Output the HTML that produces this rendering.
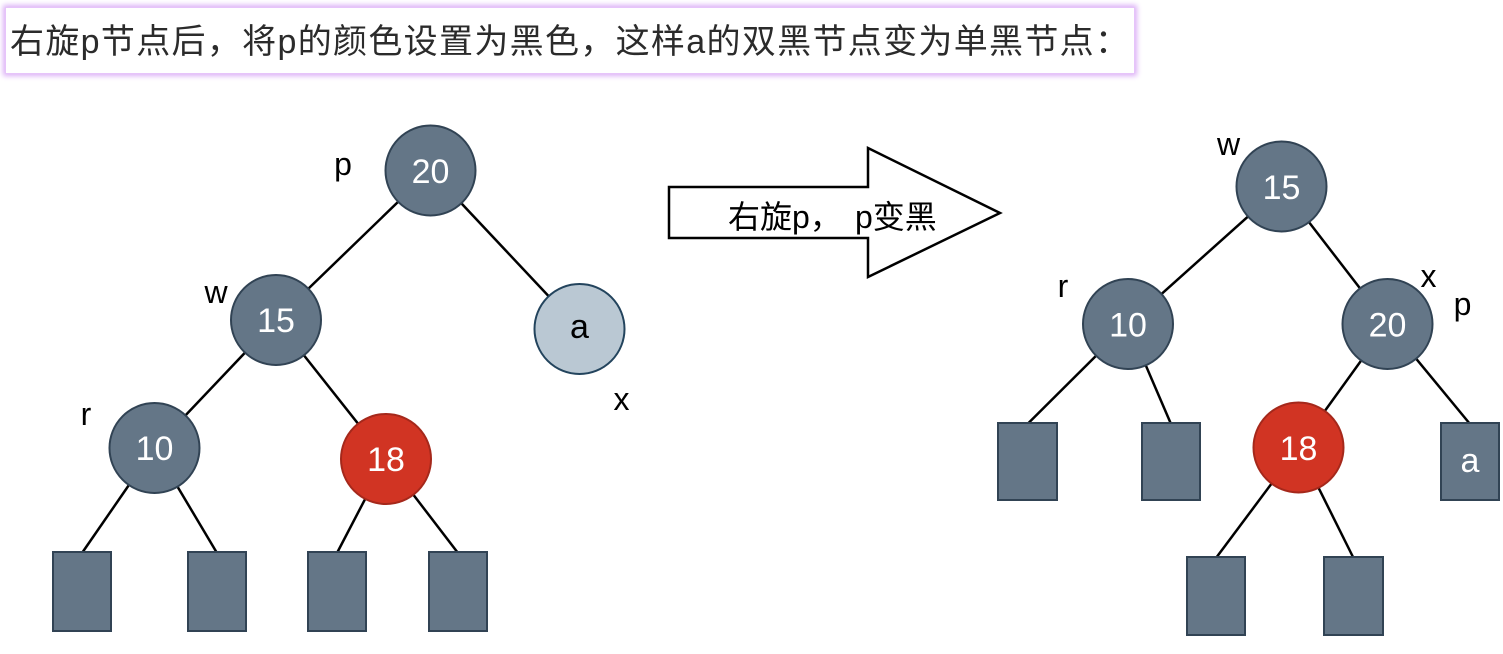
<!DOCTYPE html>
<html>
<head>
<meta charset="utf-8">
<style>
  html,body{margin:0;padding:0;background:#fff;}
  body{width:1503px;height:654px;position:relative;overflow:hidden;}
  .title{position:absolute;left:5px;top:7px;width:1130px;height:67px;background:#fff;
    box-shadow:0 0 5px 2px #dcb0f6;border:1px solid #e6c4fa;box-sizing:border-box;}
  svg{position:absolute;left:0;top:0;}
</style>
</head>
<body>
<div class="title"></div>
<svg width="1503" height="654" viewBox="0 0 1503 654" xmlns="http://www.w3.org/2000/svg">
  <g font-family="'Liberation Sans','Noto Sans CJK SC',sans-serif">
    <text x="10" y="53" font-size="34" fill="#2b2b2b" textLength="1119" lengthAdjust="spacing">右旋p节点后，将p的颜色设置为黑色，这样a的双黑节点变为单黑节点：</text>
  </g>

  <!-- LEFT TREE edges -->
  <g stroke="#000" stroke-width="2.5" fill="none">
    <line x1="430.5" y1="170.5" x2="276" y2="320"/>
    <line x1="430.5" y1="170.5" x2="579.5" y2="329"/>
    <line x1="276" y1="320" x2="154.5" y2="448"/>
    <line x1="276" y1="320" x2="386" y2="459"/>
    <line x1="154.5" y1="448" x2="82" y2="553"/>
    <line x1="154.5" y1="448" x2="217" y2="553"/>
    <line x1="386" y1="459" x2="337" y2="553"/>
    <line x1="386" y1="459" x2="458" y2="553"/>
  </g>
  <!-- LEFT leaves -->
  <g fill="#647687" stroke="#314354" stroke-width="2">
    <rect x="53" y="552" width="58" height="79"/>
    <rect x="188" y="552" width="58" height="79"/>
    <rect x="308" y="552" width="58" height="79"/>
    <rect x="429" y="552" width="58" height="79"/>
  </g>
  <!-- LEFT nodes -->
  <g stroke-width="2">
    <circle cx="430.5" cy="170.5" r="45" fill="#647687" stroke="#314354"/>
    <circle cx="276" cy="320" r="45" fill="#647687" stroke="#314354"/>
    <circle cx="579.5" cy="329" r="45" fill="#bac8d3" stroke="#23445d"/>
    <circle cx="154.5" cy="448" r="45" fill="#647687" stroke="#314354"/>
    <circle cx="386" cy="459" r="45" fill="#d13423" stroke="#a5281b"/>
  </g>
  <g font-family="'Liberation Sans',sans-serif" font-size="34" text-anchor="middle">
    <text x="430.5" y="183" fill="#fff">20</text>
    <text x="276" y="332" fill="#fff">15</text>
    <text x="579.5" y="338" fill="#000">a</text>
    <text x="154.5" y="460" fill="#fff">10</text>
    <text x="386" y="471" fill="#fff">18</text>
  </g>
  <g font-family="'Liberation Sans',sans-serif" font-size="32" text-anchor="middle">
    <text x="343" y="175" fill="#000">p</text>
    <text x="216" y="303" fill="#000">w</text>
    <text x="86" y="425" fill="#000">r</text>
    <text x="621.5" y="410" fill="#000">x</text>
  </g>

  <!-- ARROW -->
  <polygon points="669,187 868,187 868,148 1000,213 868,277 868,238 669,238" fill="#fff" stroke="#000" stroke-width="2.5" stroke-linejoin="miter"/>
  <g font-family="'Liberation Sans','Noto Sans CJK SC',sans-serif" font-size="32" fill="#000">
    <text x="728" y="228">右旋p，</text>
    <text x="855" y="228">p变黑</text>
  </g>

  <!-- RIGHT TREE edges -->
  <g stroke="#000" stroke-width="2.5" fill="none">
    <line x1="1281.5" y1="186.5" x2="1128" y2="324"/>
    <line x1="1281.5" y1="186.5" x2="1387.5" y2="324"/>
    <line x1="1128" y1="324" x2="1027.5" y2="424"/>
    <line x1="1128" y1="324" x2="1171" y2="424"/>
    <line x1="1387.5" y1="324" x2="1298.5" y2="447.5"/>
    <line x1="1387.5" y1="324" x2="1470" y2="424"/>
    <line x1="1298.5" y1="447.5" x2="1216" y2="558"/>
    <line x1="1298.5" y1="447.5" x2="1353.5" y2="558"/>
  </g>
  <g fill="#647687" stroke="#314354" stroke-width="2">
    <rect x="998" y="423" width="59" height="77"/>
    <rect x="1142" y="423" width="58" height="77"/>
    <rect x="1441" y="423" width="58" height="77"/>
    <rect x="1187" y="557" width="58" height="78"/>
    <rect x="1324" y="557" width="59" height="78"/>
  </g>
  <g stroke-width="2">
    <circle cx="1281.5" cy="186.5" r="45" fill="#647687" stroke="#314354"/>
    <circle cx="1128" cy="324" r="45" fill="#647687" stroke="#314354"/>
    <circle cx="1387.5" cy="324" r="45" fill="#647687" stroke="#314354"/>
    <circle cx="1298.5" cy="447.5" r="45" fill="#d13423" stroke="#a5281b"/>
  </g>
  <g font-family="'Liberation Sans',sans-serif" font-size="34" text-anchor="middle">
    <text x="1281.5" y="199" fill="#fff">15</text>
    <text x="1128" y="336.5" fill="#fff">10</text>
    <text x="1387.5" y="336.5" fill="#fff">20</text>
    <text x="1298.5" y="460" fill="#fff">18</text>
    <text x="1470" y="472" fill="#fff">a</text>
  </g>
  <g font-family="'Liberation Sans',sans-serif" font-size="32" text-anchor="middle">
    <text x="1228.5" y="155" fill="#000">w</text>
    <text x="1063" y="297" fill="#000">r</text>
    <text x="1428.5" y="287" fill="#000">x</text>
    <text x="1462.5" y="315" fill="#000">p</text>
  </g>
</svg>
</body>
</html>
